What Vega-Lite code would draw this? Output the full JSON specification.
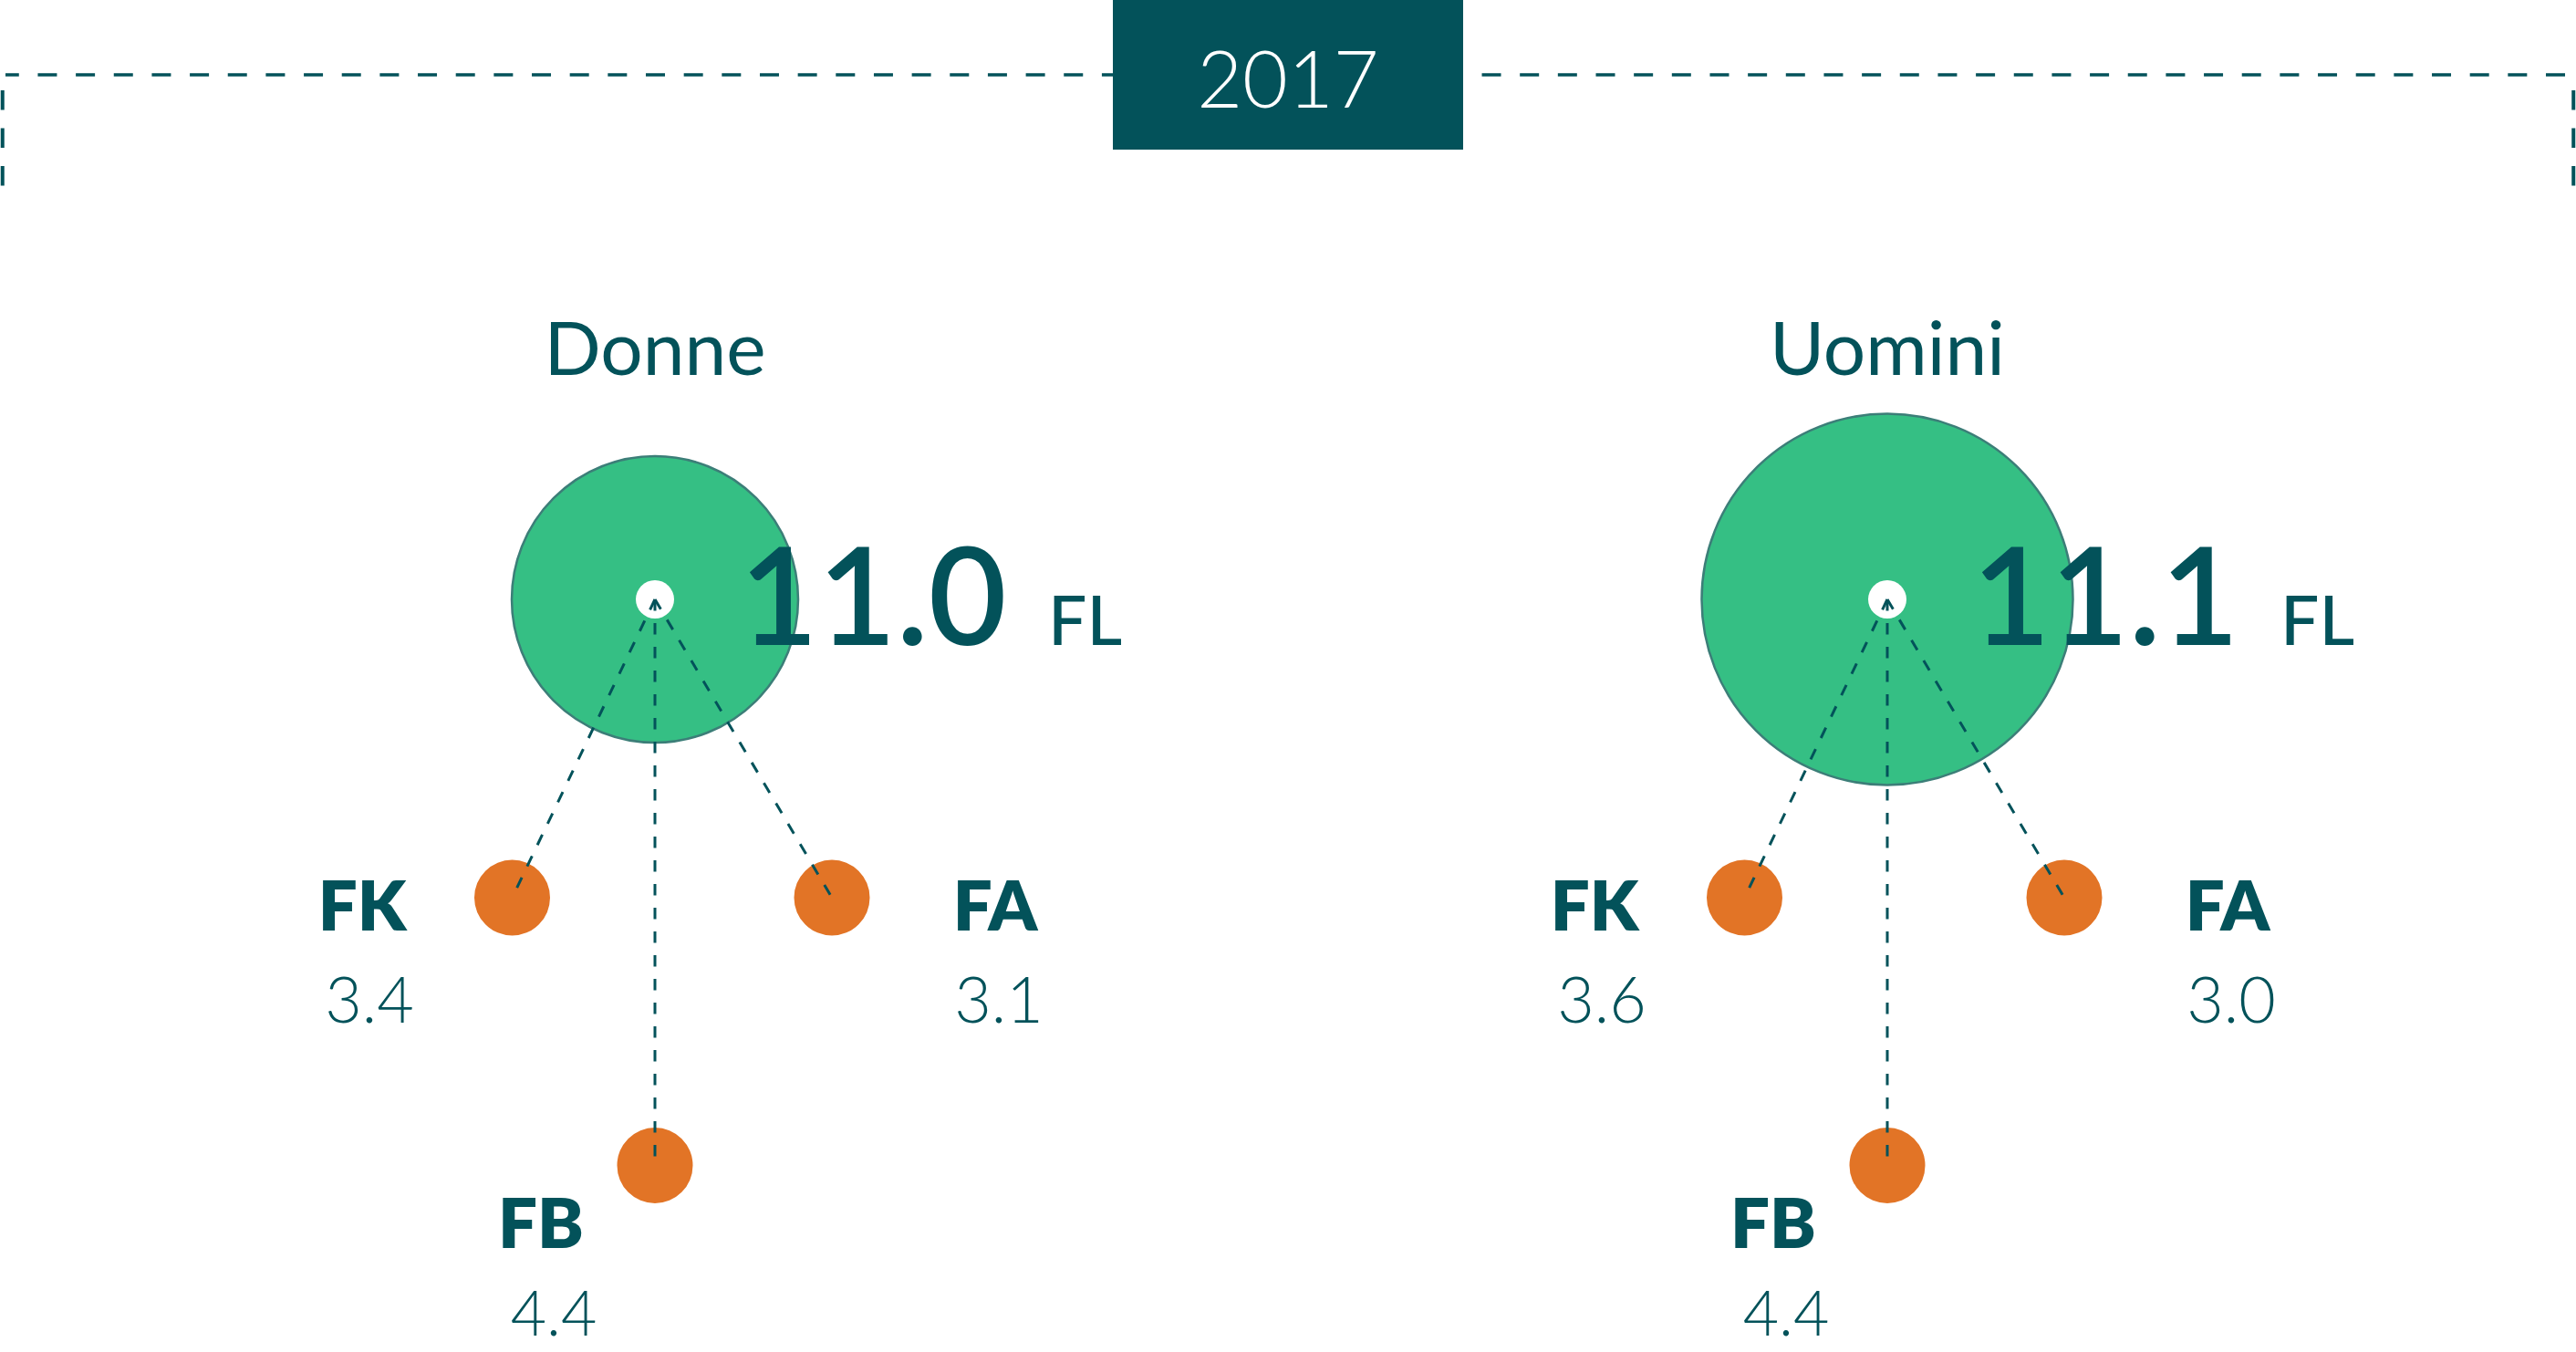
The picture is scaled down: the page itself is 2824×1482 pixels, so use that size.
{
  "$schema": "https://vega.github.io/schema/vega-lite/v6.json",
  "width": 2824,
  "height": 1482,
  "autosize": {"type": "fit", "contains": "padding"},
  "padding": 0,
  "background": "#ffffff",
  "config": {"view": {"stroke": null}, "font": "Lato"},
  "datasets": {
    "anno": [{"anno": "2017"}],
    "totali": [
      {"group": "Donne", "totale": 11.0, "unita": "FL"},
      {"group": "Uomini", "totale": 11.1, "unita": "FL"}
    ],
    "componenti": [
      {"group": "Donne", "part": "FK", "value": 3.4},
      {"group": "Donne", "part": "FB", "value": 4.4},
      {"group": "Donne", "part": "FA", "value": 3.1},
      {"group": "Uomini", "part": "FK", "value": 3.6},
      {"group": "Uomini", "part": "FB", "value": 4.4},
      {"group": "Uomini", "part": "FA", "value": 3.0}
    ]
  },
  "layer": [
    {
      "data": {"name": "anno"},
      "mark": {"type": "rule", "stroke": "#03525A", "strokeWidth": 3.5, "strokeDash": [21, 20.66], "strokeDashOffset": 35.66},
      "encoding": {"y": {"datum": 0, "type": "quantitative", "scale": {"domain": [0, 1, 2, 3], "range": [82, 657, 984, 1277.5], "nice": false, "zero": false}, "axis": null}}
    },
    {
      "data": {"name": "anno"},
      "mark": {"type": "point", "shape": "M-1,0.01206V0.08621M1,0.01206V0.08621", "size": 7943942, "filled": false, "stroke": "#03525A", "strokeWidth": 4, "strokeDash": [21.5, 20], "opacity": 1, "strokeOpacity": 1},
      "encoding": {"y": {"datum": 0, "type": "quantitative", "scale": {"domain": [0, 1, 2, 3], "range": [82, 657, 984, 1277.5], "nice": false, "zero": false}, "axis": null}}
    },
    {
      "data": {"name": "anno"},
      "mark": {"type": "point", "shape": "M-1,-0.427083H1V0.427083H-1Z", "size": 147456, "filled": true, "fill": "#03525A", "opacity": 1, "strokeWidth": 0},
      "encoding": {"y": {"datum": 0, "type": "quantitative", "scale": {"domain": [0, 1, 2, 3], "range": [82, 657, 984, 1277.5], "nice": false, "zero": false}, "axis": null}}
    },
    {
      "data": {"name": "anno"},
      "mark": {"type": "text", "font": "Lato", "fontWeight": 300, "fontSize": 86, "color": "#ffffff", "align": "center", "baseline": "alphabetic", "dy": 36},
      "encoding": {
        "y": {"datum": 0, "type": "quantitative", "scale": {"domain": [0, 1, 2, 3], "range": [82, 657, 984, 1277.5], "nice": false, "zero": false}, "axis": null},
        "text": {"field": "anno", "type": "nominal"}
      }
    },
    {
      "data": {"name": "totali"},
      "mark": {"type": "circle", "fill": "#35BF84", "stroke": "#3C7E78", "strokeWidth": 2.5, "opacity": 1, "strokeOpacity": 1},
      "encoding": {
        "x": {"field": "group", "type": "nominal", "scale": {"type": "point", "domain": ["Donne", "Uomini"], "range": [712, 2063], "padding": 0}, "axis": null},
        "y": {"datum": 1, "type": "quantitative", "scale": {"domain": [0, 1, 2, 3], "range": [82, 657, 984, 1277.5], "nice": false, "zero": false}, "axis": null},
        "size": {"field": "totale", "type": "quantitative", "scale": {"domain": [11.0, 11.1], "range": [98596, 165649], "zero": false}, "legend": null}
      }
    },
    {
      "data": {"name": "totali"},
      "mark": {"type": "circle", "fill": "#ffffff", "size": 1764, "opacity": 1},
      "encoding": {
        "x": {"field": "group", "type": "nominal", "scale": {"type": "point", "domain": ["Donne", "Uomini"], "range": [712, 2063], "padding": 0}, "axis": null},
        "y": {"datum": 1, "type": "quantitative", "scale": {"domain": [0, 1, 2, 3], "range": [82, 657, 984, 1277.5], "nice": false, "zero": false}, "axis": null}
      }
    },
    {
      "data": {"name": "totali"},
      "mark": {"type": "text", "font": "Lato", "fontWeight": 400, "fontSize": 82, "color": "#03525A", "align": "center", "baseline": "alphabetic", "dy": -246},
      "encoding": {
        "x": {"field": "group", "type": "nominal", "scale": {"type": "point", "domain": ["Donne", "Uomini"], "range": [712, 2063], "padding": 0}, "axis": null},
        "y": {"datum": 1, "type": "quantitative", "scale": {"domain": [0, 1, 2, 3], "range": [82, 657, 984, 1277.5], "nice": false, "zero": false}, "axis": null},
        "text": {"field": "group", "type": "nominal"}
      }
    },
    {
      "data": {"name": "totali"},
      "mark": {"type": "text", "font": "Lato", "fontWeight": 600, "fontSize": 148, "color": "#03525A", "align": "left", "baseline": "alphabetic", "dx": 93, "dy": 50},
      "encoding": {
        "x": {"field": "group", "type": "nominal", "scale": {"type": "point", "domain": ["Donne", "Uomini"], "range": [712, 2063], "padding": 0}, "axis": null},
        "y": {"datum": 1, "type": "quantitative", "scale": {"domain": [0, 1, 2, 3], "range": [82, 657, 984, 1277.5], "nice": false, "zero": false}, "axis": null},
        "text": {"field": "totale", "type": "quantitative", "format": ".1f"}
      }
    },
    {
      "data": {"name": "totali"},
      "mark": {"type": "text", "font": "Lato", "fontWeight": 500, "fontSize": 75, "color": "#03525A", "align": "left", "baseline": "alphabetic", "dx": 431, "dy": 50},
      "encoding": {
        "x": {"field": "group", "type": "nominal", "scale": {"type": "point", "domain": ["Donne", "Uomini"], "range": [712, 2063], "padding": 0}, "axis": null},
        "y": {"datum": 1, "type": "quantitative", "scale": {"domain": [0, 1, 2, 3], "range": [82, 657, 984, 1277.5], "nice": false, "zero": false}, "axis": null},
        "text": {"field": "unita", "type": "nominal"}
      }
    },
    {
      "data": {"name": "componenti"},
      "transform": [{"filter": "datum.part === 'FK'"}],
      "layer": [
        {
          "mark": {"type": "circle", "fill": "#E27426", "size": 6889, "opacity": 1, "xOffset": -156.5},
          "encoding": {
            "x": {"field": "group", "type": "nominal", "scale": {"type": "point", "domain": ["Donne", "Uomini"], "range": [712, 2063], "padding": 0}, "axis": null},
            "y": {"datum": 2, "type": "quantitative", "scale": {"domain": [0, 1, 2, 3], "range": [82, 657, 984, 1277.5], "nice": false, "zero": false}, "axis": null}
          }
        },
        {
          "mark": {"type": "rule", "stroke": "#03525A", "strokeWidth": 3, "strokeDash": [12.5, 13.5], "x2Offset": -156.5},
          "encoding": {
            "x": {"field": "group", "type": "nominal", "scale": {"type": "point", "domain": ["Donne", "Uomini"], "range": [712, 2063], "padding": 0}, "axis": null},
            "x2": {"field": "group"},
            "y": {"datum": 1, "type": "quantitative", "scale": {"domain": [0, 1, 2, 3], "range": [82, 657, 984, 1277.5], "nice": false, "zero": false}, "axis": null},
            "y2": {"datum": 2}
          }
        },
        {
          "mark": {"type": "text", "font": "Lato", "fontWeight": 800, "fontSize": 76, "color": "#03525A", "align": "center", "baseline": "alphabetic", "dx": -321, "dy": 36},
          "encoding": {
            "x": {"field": "group", "type": "nominal", "scale": {"type": "point", "domain": ["Donne", "Uomini"], "range": [712, 2063], "padding": 0}, "axis": null},
            "y": {"datum": 2, "type": "quantitative", "scale": {"domain": [0, 1, 2, 3], "range": [82, 657, 984, 1277.5], "nice": false, "zero": false}, "axis": null},
            "text": {"field": "part", "type": "nominal"}
          }
        },
        {
          "mark": {"type": "text", "font": "Lato", "fontWeight": 300, "fontSize": 70, "color": "#03525A", "align": "center", "baseline": "alphabetic", "dx": -313, "dy": 137},
          "encoding": {
            "x": {"field": "group", "type": "nominal", "scale": {"type": "point", "domain": ["Donne", "Uomini"], "range": [712, 2063], "padding": 0}, "axis": null},
            "y": {"datum": 2, "type": "quantitative", "scale": {"domain": [0, 1, 2, 3], "range": [82, 657, 984, 1277.5], "nice": false, "zero": false}, "axis": null},
            "text": {"field": "value", "type": "quantitative", "format": ".1f"}
          }
        }
      ]
    },
    {
      "data": {"name": "componenti"},
      "transform": [{"filter": "datum.part === 'FA'"}],
      "layer": [
        {
          "mark": {"type": "circle", "fill": "#E27426", "size": 6889, "opacity": 1, "xOffset": 194},
          "encoding": {
            "x": {"field": "group", "type": "nominal", "scale": {"type": "point", "domain": ["Donne", "Uomini"], "range": [712, 2063], "padding": 0}, "axis": null},
            "y": {"datum": 2, "type": "quantitative", "scale": {"domain": [0, 1, 2, 3], "range": [82, 657, 984, 1277.5], "nice": false, "zero": false}, "axis": null}
          }
        },
        {
          "mark": {"type": "rule", "stroke": "#03525A", "strokeWidth": 3, "strokeDash": [12.5, 13.5], "x2Offset": 194},
          "encoding": {
            "x": {"field": "group", "type": "nominal", "scale": {"type": "point", "domain": ["Donne", "Uomini"], "range": [712, 2063], "padding": 0}, "axis": null},
            "x2": {"field": "group"},
            "y": {"datum": 1, "type": "quantitative", "scale": {"domain": [0, 1, 2, 3], "range": [82, 657, 984, 1277.5], "nice": false, "zero": false}, "axis": null},
            "y2": {"datum": 2}
          }
        },
        {
          "mark": {"type": "text", "font": "Lato", "fontWeight": 800, "fontSize": 76, "color": "#03525A", "align": "center", "baseline": "alphabetic", "dx": 373, "dy": 36},
          "encoding": {
            "x": {"field": "group", "type": "nominal", "scale": {"type": "point", "domain": ["Donne", "Uomini"], "range": [712, 2063], "padding": 0}, "axis": null},
            "y": {"datum": 2, "type": "quantitative", "scale": {"domain": [0, 1, 2, 3], "range": [82, 657, 984, 1277.5], "nice": false, "zero": false}, "axis": null},
            "text": {"field": "part", "type": "nominal"}
          }
        },
        {
          "mark": {"type": "text", "font": "Lato", "fontWeight": 300, "fontSize": 70, "color": "#03525A", "align": "center", "baseline": "alphabetic", "dx": 377, "dy": 137},
          "encoding": {
            "x": {"field": "group", "type": "nominal", "scale": {"type": "point", "domain": ["Donne", "Uomini"], "range": [712, 2063], "padding": 0}, "axis": null},
            "y": {"datum": 2, "type": "quantitative", "scale": {"domain": [0, 1, 2, 3], "range": [82, 657, 984, 1277.5], "nice": false, "zero": false}, "axis": null},
            "text": {"field": "value", "type": "quantitative", "format": ".1f"}
          }
        }
      ]
    },
    {
      "data": {"name": "componenti"},
      "transform": [{"filter": "datum.part === 'FB'"}],
      "layer": [
        {
          "mark": {"type": "circle", "fill": "#E27426", "size": 6889, "opacity": 1},
          "encoding": {
            "x": {"field": "group", "type": "nominal", "scale": {"type": "point", "domain": ["Donne", "Uomini"], "range": [712, 2063], "padding": 0}, "axis": null},
            "y": {"datum": 3, "type": "quantitative", "scale": {"domain": [0, 1, 2, 3], "range": [82, 657, 984, 1277.5], "nice": false, "zero": false}, "axis": null}
          }
        },
        {
          "mark": {"type": "rule", "stroke": "#03525A", "strokeWidth": 3, "strokeDash": [12.5, 13.5]},
          "encoding": {
            "x": {"field": "group", "type": "nominal", "scale": {"type": "point", "domain": ["Donne", "Uomini"], "range": [712, 2063], "padding": 0}, "axis": null},
            "x2": {"field": "group"},
            "y": {"datum": 1, "type": "quantitative", "scale": {"domain": [0, 1, 2, 3], "range": [82, 657, 984, 1277.5], "nice": false, "zero": false}, "axis": null},
            "y2": {"datum": 3}
          }
        },
        {
          "mark": {"type": "text", "font": "Lato", "fontWeight": 800, "fontSize": 76, "color": "#03525A", "align": "center", "baseline": "alphabetic", "dx": -125, "dy": 90.5},
          "encoding": {
            "x": {"field": "group", "type": "nominal", "scale": {"type": "point", "domain": ["Donne", "Uomini"], "range": [712, 2063], "padding": 0}, "axis": null},
            "y": {"datum": 3, "type": "quantitative", "scale": {"domain": [0, 1, 2, 3], "range": [82, 657, 984, 1277.5], "nice": false, "zero": false}, "axis": null},
            "text": {"field": "part", "type": "nominal"}
          }
        },
        {
          "mark": {"type": "text", "font": "Lato", "fontWeight": 300, "fontSize": 68, "color": "#03525A", "align": "center", "baseline": "alphabetic", "dx": -111, "dy": 186},
          "encoding": {
            "x": {"field": "group", "type": "nominal", "scale": {"type": "point", "domain": ["Donne", "Uomini"], "range": [712, 2063], "padding": 0}, "axis": null},
            "y": {"datum": 3, "type": "quantitative", "scale": {"domain": [0, 1, 2, 3], "range": [82, 657, 984, 1277.5], "nice": false, "zero": false}, "axis": null},
            "text": {"field": "value", "type": "quantitative", "format": ".1f"}
          }
        }
      ]
    }
  ]
}
